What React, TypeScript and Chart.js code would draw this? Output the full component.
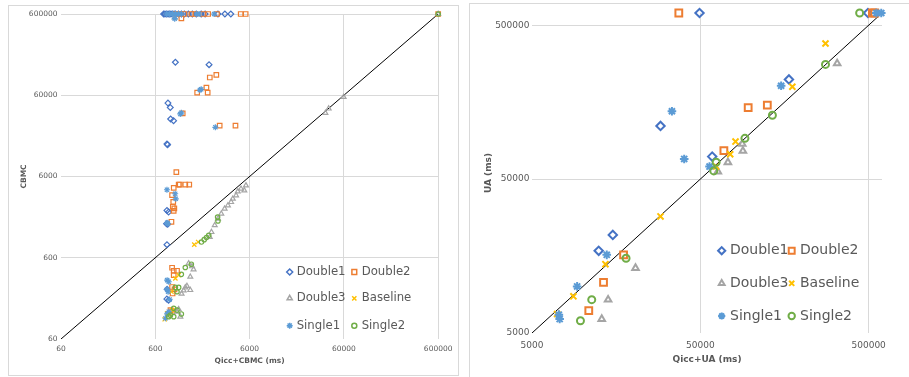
import React, { useEffect, useRef } from 'react';
import { Chart, registerables } from 'chart.js';
import { drawPoint } from 'chart.js/helpers';

Chart.register(...registerables);

// ---------- shared series info ----------
const SERIES_NAMES = ['Double1', 'Double2', 'Double3', 'Baseline', 'Single1', 'Single2'];
const SERIES_COLORS = ['#4472C4', '#ED7D31', '#A5A5A5', '#FFC000', '#5B9BD5', '#70AD47'];
const SERIES_STYLES = ['rectRot', 'rect', 'triangle', 'crossRot', 'star', 'circle'];

// ---------- left panel: Qicc+CBMC (ms) vs CBMC ----------
const LEFT_TICKS = [60, 600, 6000, 60000, 600000];
const LEFT_DIAGONAL: [number, number][] = [[60, 60], [600000, 600000]];

const leftDouble1: [number, number][] = [
  [736, 600000], [760, 600000], [791, 600000], [820, 600000], [851, 600000], [880, 600000],
  [915, 600000], [950, 600000], [983, 600000], [1057, 600000], [1136, 600000], [1221, 600000],
  [1346, 600000], [1482, 600000], [1632, 600000], [1841, 600000], [2026, 600000], [2772, 600000],
  [3283, 600000], [3794, 600000],
  [980, 152800], [2230, 142900], [817, 48100], [865, 42500], [873, 30600], [937, 29200],
  [798, 15100], [810, 14800], [798, 2297], [830, 2190], [790, 1578], [812, 1546], [798, 870],
  [800, 245], [795, 186], [830, 180],
];
const leftDouble2: [number, number][] = [
  [1000, 600000], [1110, 600000], [1221, 600000], [1447, 600000], [1592, 600000], [1932, 600000],
  [2180, 600000], [2707, 600000], [4830, 600000], [5450, 600000], [1134, 531000], [600000, 600000],
  [2663, 107100], [2270, 99200], [2090, 74500], [1668, 64700], [2156, 64700], [1172, 35900],
  [2890, 25400], [4250, 25400], [1003, 6780], [1062, 4780], [1090, 4780], [1248, 4780], [1375, 4780],
  [941, 4356], [904, 3536], [930, 2929], [920, 2544], [955, 2430], [940, 2270], [890, 1663],
  [904, 452], [941, 415], [1020, 415], [941, 367], [904, 262], [960, 245], [915, 218], [869, 136], [904, 130],
];
const leftDouble3: [number, number][] = [
  [964, 541000], [600000, 600000], [38200, 36400], [41400, 41100], [59600, 57200],
  [5490, 4655], [5275, 4040], [4866, 4237], [4494, 3930], [4313, 3510], [3984, 3192], [3822, 2904],
  [3534, 2646], [3258, 2412], [3006, 2094], [2772, 1818], [2562, 1506], [2364, 1242], [2268, 1080],
  [1354, 511], [1527, 431], [1470, 470], [1410, 350], [1300, 269], [1248, 259], [1410, 240],
  [1140, 216], [1200, 237], [1062, 139], [1106, 113], [1020, 130],
];
const leftBaseline: [number, number][] = [
  [1554, 870], [1710, 936],
  [980, 334], [1062, 367], [890, 229], [755, 105], [801, 124], [850, 118], [904, 136],
];
const leftSingle1: [number, number][] = [
  [791, 600000], [851, 600000], [915, 600000], [983, 600000], [1057, 600000], [1136, 600000],
  [1650, 600000], [1750, 600000], [2520, 600000], [964, 526000],
  [1103, 35300], [1134, 36500], [1783, 69500], [1840, 71000], [2600, 24200],
  [798, 4120], [975, 3680], [990, 3190], [801, 1615], [815, 1580],
  [801, 318], [834, 304], [801, 245], [820, 229], [850, 184], [801, 122], [770, 108], [834, 130],
];
const leftSingle2: [number, number][] = [
  [600000, 600000], [2748, 1900], [2772, 1700], [2214, 1134], [2094, 1062], [1980, 1002], [1854, 936],
  [1447, 500], [1248, 455], [1134, 375], [1062, 259], [1020, 229], [980, 259],
  [941, 143], [1020, 136], [1134, 122], [869, 118], [834, 113], [941, 113],
];

// ---------- right panel: Qicc+UA (ms) vs UA (ms) ----------
const RIGHT_TICKS = [5000, 50000, 500000];
const RIGHT_DIAGONAL: [number, number][] = [[5000, 5000], [580000, 580000]];

const rightDouble1: [number, number][] = [
  [49450, 600000], [495000, 600000], [168000, 222000], [29000, 110700], [58800, 70000],
  [15100, 21700], [12450, 17100],
];
const rightDouble2: [number, number][] = [
  [37250, 600000], [526000, 600000], [543000, 600000], [96200, 145500], [125000, 151000],
  [69000, 76500], [17500, 16100], [13300, 10660], [10870, 6980],
];
const rightDouble3: [number, number][] = [
  [325000, 282000], [88700, 84600], [89500, 76200], [72900, 64300], [63500, 55900],
  [20600, 13200], [14160, 8230], [12980, 6160],
];
const rightBaseline: [number, number][] = [
  [277000, 380000], [176000, 199000], [80900, 87600], [75200, 72500], [62100, 60300],
  [29000, 28600], [13650, 14000], [8810, 8650], [7050, 6640],
];
const rightSingle1: [number, number][] = [
  [556000, 600000], [594000, 600000], [151000, 202000], [33900, 138000], [40100, 67600],
  [56700, 60300], [13900, 16100], [9270, 10040], [7220, 6580], [7300, 6160],
];
const rightSingle2: [number, number][] = [
  [442000, 600000], [277000, 278000], [134000, 130000], [92000, 92000], [62100, 64300],
  [60100, 56500], [18100, 15300], [11320, 8230], [9700, 6010],
];

const FONT = '"DejaVu Sans", Verdana, sans-serif';
const TEXT_COLOR = '#595959';
const GRID_COLOR = '#d9d9d9';

const gridLegendPlugin = {
  id: 'gridLegend',
  afterDraw(chart: any, _args: any, opts: any) {
    if (!opts || !opts.items) return;
    const ctx = chart.ctx as CanvasRenderingContext2D;
    ctx.save();
    opts.items.forEach((it: any, i: number) => {
      const col = i % 2;
      const row = Math.floor(i / 2);
      const y = opts.rowY[row];
      ctx.strokeStyle = it.color;
      ctx.fillStyle = 'rgba(0,0,0,0)';
      ctx.lineWidth = opts.markerBorder;
      drawPoint(ctx, { pointStyle: it.style, radius: opts.markerR[i], borderWidth: opts.markerBorder, rotation: 0 } as any, opts.markerX[col], y);
      ctx.fillStyle = TEXT_COLOR;
      ctx.font = `${opts.fontSize}px ${FONT}`;
      ctx.textBaseline = 'middle';
      ctx.textAlign = 'left';
      ctx.fillText(it.label, opts.textX[col], y);
    });
    ctx.restore();
  },
};

type PanelCfg = {
  series: [number, number][][];
  diagonal: [number, number][];
  ticks: number[];
  min: number;
  max: number;
  xTitle: string;
  yTitle: string;
  tickFont: number;
  titleFont: number;
  radii: number[];
  borderW: number;
  padTop: number;
  padRight: number;
  yAxisW: number;
  xAxisH: number;
  xTickPad: number;
  yTickPad: number;
  xTitlePad: number;
  yTitlePad: number;
  legend: any;
};

function makeConfig(p: PanelCfg): any {
  const datasets: any[] = p.series.map((pts, i) => ({
    label: SERIES_NAMES[i],
    data: pts.map(([x, y]) => ({ x, y })),
    pointStyle: SERIES_STYLES[i],
    pointRadius: p.radii[i],
    pointBorderWidth: p.borderW,
    pointBorderColor: SERIES_COLORS[i],
    pointBackgroundColor: 'rgba(0,0,0,0)',
    borderColor: SERIES_COLORS[i],
    backgroundColor: 'rgba(0,0,0,0)',
    showLine: false,
    clip: false,
    order: 5 - i,
  }));
  datasets.push({
    label: 'diag',
    data: p.diagonal.map(([x, y]) => ({ x, y })),
    showLine: true,
    borderColor: '#000000',
    borderWidth: 1,
    pointRadius: 0,
    fill: false,
    order: 10,
  });
  const gridColor = (c: any) => (c.tick && c.tick.value === p.min ? 'rgba(0,0,0,0)' : GRID_COLOR);
  const common = (isX: boolean) => ({
    type: 'logarithmic',
    min: p.min,
    max: p.max,
    afterBuildTicks: (s: any) => {
      s.ticks = p.ticks.map((v) => ({ value: v }));
    },
    afterFit: (s: any) => {
      if (isX) s.height = p.xAxisH;
      else s.width = p.yAxisW;
    },
    ticks: {
      callback: (v: any) => String(v),
      color: TEXT_COLOR,
      font: { family: FONT, size: p.tickFont },
      padding: isX ? p.xTickPad : p.yTickPad,
      autoSkip: false,
      maxRotation: 0,
      minRotation: 0,
    },
    grid: { color: gridColor, drawTicks: false, lineWidth: 1 },
    border: { display: false },
    title: {
      display: true,
      text: isX ? p.xTitle : p.yTitle,
      color: TEXT_COLOR,
      font: { family: FONT, size: p.titleFont, weight: 'bold' },
      padding: isX ? { top: 0, bottom: p.xTitlePad } : { top: p.yTitlePad, bottom: 0 },
    },
  });
  return {
    type: 'scatter',
    data: { datasets },
    options: {
      responsive: false,
      animation: false,
      events: [],
      layout: { padding: { top: p.padTop, right: p.padRight, left: 0, bottom: 0 } },
      plugins: {
        legend: { display: false },
        tooltip: { enabled: false },
        gridLegend: p.legend,
      },
      scales: { x: common(true), y: common(false) },
    },
    plugins: [gridLegendPlugin],
  };
}

const legendItems = SERIES_NAMES.map((label, i) => ({ label, color: SERIES_COLORS[i], style: SERIES_STYLES[i] }));

const LEFT_CFG: PanelCfg = {
  series: [leftDouble1, leftDouble2, leftDouble3, leftBaseline, leftSingle1, leftSingle2],
  diagonal: LEFT_DIAGONAL,
  ticks: LEFT_TICKS,
  min: 60,
  max: 600000,
  xTitle: 'Qicc+CBMC (ms)',
  yTitle: 'CBMC',
  tickFont: 7.5,
  titleFont: 7.5,
  radii: [2.9, 3.2, 2.8, 3, 3, 2.2],
  borderW: 1.2,
  padTop: 7,
  padRight: 15,
  yAxisW: 52,
  xAxisH: 36,
  xTickPad: 5.5,
  yTickPad: 3.5,
  xTitlePad: 9.5,
  yTitlePad: 10.5,
  legend: {
    items: legendItems,
    markerX: [280.7, 345.3],
    textX: [287.7, 352.7],
    rowY: [266, 292.3, 319.7],
    markerR: [3, 3.4, 3, 3, 3, 2.5],
    markerBorder: 1.5,
    fontSize: 11.7,
  },
};

const RIGHT_CFG: PanelCfg = {
  series: [rightDouble1, rightDouble2, rightDouble3, rightBaseline, rightSingle1, rightSingle2],
  diagonal: RIGHT_DIAGONAL,
  ticks: RIGHT_TICKS,
  min: 5000,
  max: 600000,
  xTitle: 'Qicc+UA (ms)',
  yTitle: 'UA (ms)',
  tickFont: 9,
  titleFont: 9,
  radii: [4.2, 4.8, 3.8, 4.3, 4.3, 3.5],
  borderW: 2,
  padTop: 9,
  padRight: 27,
  yAxisW: 62,
  xAxisH: 44,
  xTickPad: 7.3,
  yTickPad: 2.5,
  xTitlePad: 11.6,
  yTitlePad: 13.6,
  legend: {
    items: legendItems,
    markerX: [251.7, 321.7],
    textX: [260, 330],
    rowY: [246.7, 279.3, 312],
    markerR: [3.6, 4.2, 3.4, 3.6, 3.6, 3.2],
    markerBorder: 2,
    fontSize: 14,
  },
};

function Panel({ cfg, width, height }: { cfg: PanelCfg; width: number; height: number }) {
  const ref = useRef<HTMLCanvasElement | null>(null);
  useEffect(() => {
    if (!ref.current) return;
    const chart = new Chart(ref.current, makeConfig(cfg));
    return () => chart.destroy();
  }, [cfg]);
  return <canvas ref={ref} width={width} height={height} style={{ display: 'block', width, height }} />;
}

export default function App() {
  return (
    <div style={{ position: 'fixed', left: 0, top: 0, width: 909, height: 377, overflow: 'hidden', background: '#ffffff' }}>
      <div style={{ position: 'absolute', left: 8, top: 5, width: 451, height: 371, border: '1px solid #d9d9d9', boxSizing: 'border-box' }}>
        <Panel cfg={LEFT_CFG} width={449} height={369} />
      </div>
      <div style={{ position: 'absolute', left: 469, top: 3, width: 460, height: 390, border: '1px solid #d9d9d9', boxSizing: 'border-box' }}>
        <Panel cfg={RIGHT_CFG} width={439} height={373} />
      </div>
    </div>
  );
}
